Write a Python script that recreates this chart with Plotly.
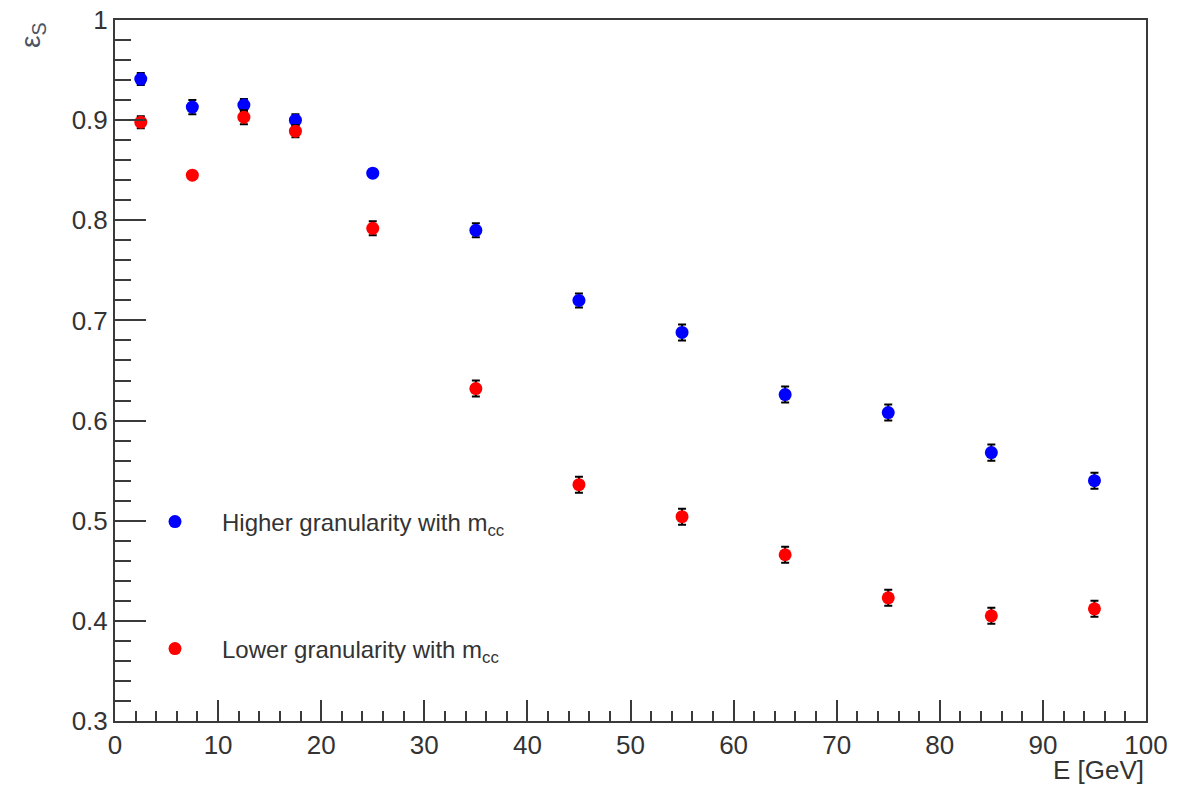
import plotly.graph_objects as go

energy = [2.5, 7.5, 12.5, 17.5, 25, 35, 45, 55, 65, 75, 85, 95]
eff_high = [0.941, 0.913, 0.915, 0.900, 0.847, 0.790, 0.720, 0.688, 0.626, 0.608, 0.568, 0.540]
err_high = [0.006, 0.007, 0.006, 0.006, 0.004, 0.007, 0.007, 0.008, 0.008, 0.008, 0.008, 0.008]
eff_low = [0.898, 0.845, 0.903, 0.889, 0.792, 0.632, 0.536, 0.504, 0.466, 0.423, 0.405, 0.412]
err_low = [0.006, 0.003, 0.007, 0.006, 0.007, 0.008, 0.008, 0.008, 0.008, 0.008, 0.008, 0.008]

y_tickvals = [0.3, 0.4, 0.5, 0.6, 0.7, 0.8, 0.9, 1.0]
y_ticktext = ["0.3", "0.4", "0.5", "0.6", "0.7", "0.8", "0.9", "1"]
x_tickvals = [0, 10, 20, 30, 40, 50, 60, 70, 80, 90, 100]
x_ticktext = ["0", "10", "20", "30", "40", "50", "60", "70", "80", "90", "100"]

FONT = "Liberation Sans, Arial, sans-serif"
AX = "#3a3a3a"

fig = go.Figure()
fig.add_trace(go.Scatter(
    x=energy, y=eff_high, mode="markers",
    name="Higher granularity with m<sub>cc</sub>",
    marker=dict(color="#0000ff", size=13),
    error_y=dict(type="data", array=err_high, color="black", thickness=2, width=4),
    legend="legend", showlegend=True,
))
fig.add_trace(go.Scatter(
    x=energy, y=eff_low, mode="markers",
    name="Lower granularity with m<sub>cc</sub>",
    marker=dict(color="#ff0000", size=13),
    error_y=dict(type="data", array=err_low, color="black", thickness=2, width=4),
    legend="legend2", showlegend=True,
))

W, H = 1199, 787
L, R, T, B = 115, 53, 20, 66
pw, ph = W - L - R, H - T - B

def px_x(p):
    return (p - L) / pw

def px_y(p):
    return (H - B - p) / ph

legend_common = dict(
    bgcolor="rgba(0,0,0,0)", borderwidth=0,
    font=dict(family=FONT, size=24, color="#333333"),
    itemwidth=84, xanchor="left", yanchor="middle",
)

fig.update_layout(
    width=W, height=H,
    margin=dict(l=L, r=R, t=T, b=B, autoexpand=False),
    paper_bgcolor="white", plot_bgcolor="white",
    font=dict(family=FONT, color="#333333"),
    showlegend=True,
    legend=dict(x=px_x(128), y=px_y(522), **legend_common),
    legend2=dict(x=px_x(128), y=px_y(649), **legend_common),
    xaxis=dict(
        range=[0, 100], tickvals=x_tickvals, ticktext=x_ticktext,
        ticks="inside", ticklen=21, tickwidth=2, tickcolor=AX,
        minor=dict(dtick=2, ticks="inside", ticklen=10, tickwidth=2, tickcolor=AX),
        showline=True, linewidth=2, linecolor=AX, mirror=True,
        showgrid=False, zeroline=False, automargin=False,
        tickfont=dict(family=FONT, size=26, color="#333333"),
    ),
    yaxis=dict(
        range=[0.3, 1.0], tickvals=y_tickvals, ticktext=y_ticktext,
        ticks="inside", ticklen=31, tickwidth=2, tickcolor=AX,
        minor=dict(dtick=0.02, ticks="inside", ticklen=16, tickwidth=2, tickcolor=AX),
        showline=True, linewidth=2, linecolor=AX, mirror=True,
        showgrid=False, zeroline=False, automargin=False,
        tickfont=dict(family=FONT, size=26, color="#333333"),
    ),
    annotations=[
        dict(text="E [GeV]", xref="paper", yref="paper", x=1.0, y=px_y(770),
             xanchor="right", yanchor="middle", showarrow=False,
             font=dict(family=FONT, size=26, color="#333333")),
        dict(text="ε<sub>S</sub>", xref="paper", yref="paper", x=px_x(32), y=px_y(20),
             xanchor="center", yanchor="top", textangle=-90, showarrow=False,
             font=dict(family=FONT, size=28, color="#4a5566")),
    ],
)

fig.write_html("out.html")
